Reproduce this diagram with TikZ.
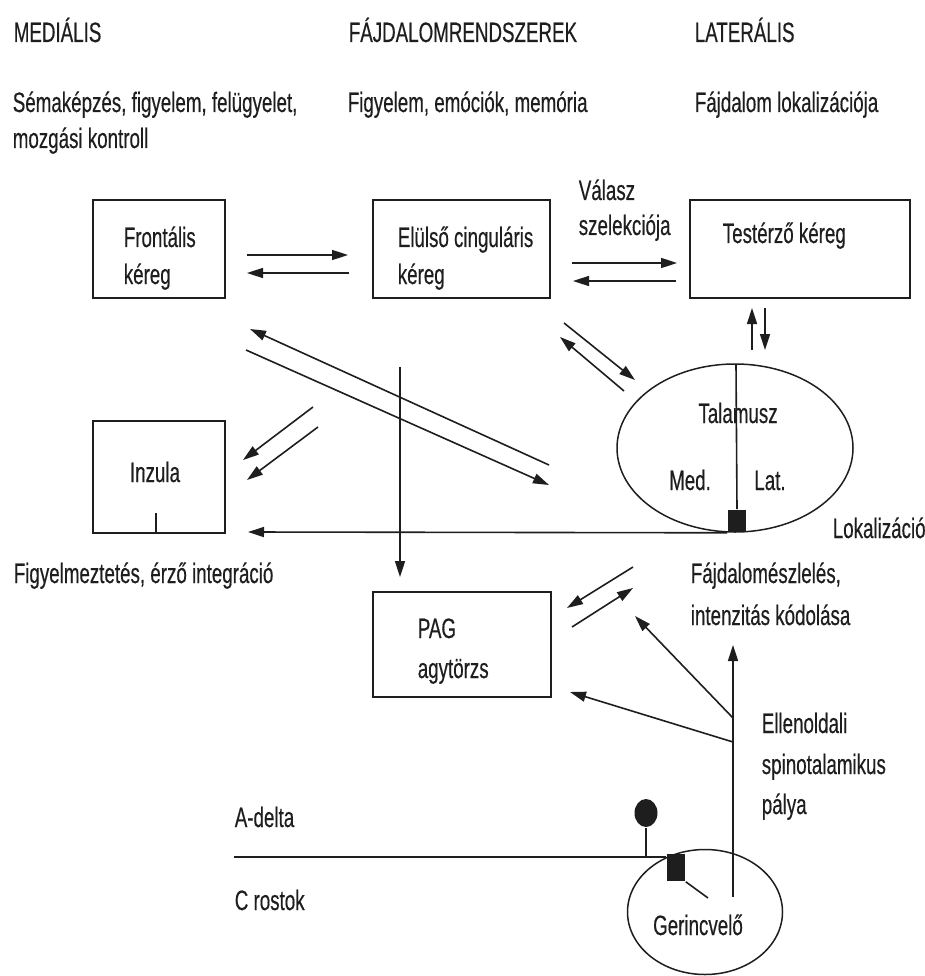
\documentclass[tikz,border=0pt]{standalone}
\usepackage{fontspec}
\setmainfont{Liberation Sans}[FakeStretch=0.67,FakeBold=0.4]
\usetikzlibrary{arrows.meta,shapes.geometric}
\definecolor{ink}{HTML}{1E1E1E}
\begin{document}
\begin{tikzpicture}[x=1pt,y=-1pt,line width=1.6pt,draw=ink,
  txt/.style={anchor=base west,inner sep=0pt,text=ink,font=\fontsize{28pt}{38pt}\selectfont},
  ctxt/.style={txt,anchor=base},
  boxn/.style={draw=ink,rectangle,inner sep=0pt,line width=1.7pt},
  ell/.style={draw=ink,ellipse,inner sep=0pt,line width=1.5pt},
  arr/.style={draw=ink,-{Triangle[length=16pt,width=10pt]}},
  ln/.style={draw=ink}]
\useasboundingbox (0,0) rectangle (925,976);
% headers
\node[txt] (h1) at (13,42) {MEDIÁLIS};
\node[txt] (h2) at (348,42) {FÁJDALOMRENDSZEREK};
\node[txt] (h3) at (694,42) {LATERÁLIS};
\node[txt] (s1a) at (12,112) {Sémaképzés, figyelem, felügyelet,};
\node[txt] (s1b) at (12,148) {mozgási kontroll};
\node[txt] (s2) at (347,112) {Figyelem, emóciók, memória};
\node[txt] (s3) at (694,112) {Fájdalom lokalizációja};
% boxes
\node[boxn,minimum width=132pt,minimum height=98pt] (front) at (159,249) {};
\node[boxn,minimum width=177pt,minimum height=98pt] (acc) at (461.5,249) {};
\node[boxn,minimum width=220pt,minimum height=98pt] (som) at (800,249) {};
\node[boxn,minimum width=132pt,minimum height=112pt] (ins) at (159,477) {};
\node[boxn,minimum width=178pt,minimum height=105pt] (pag) at (462,644.5) {};
\node[txt] (tfront1) at (123,247) {Frontális};
\node[txt] (tfront2) at (123,284) {kéreg};
\node[txt] (tacc1) at (397,247) {Elülső cinguláris};
\node[txt] (tacc2) at (397,284) {kéreg};
\node[txt] (tsom) at (722,243) {Testérző kéreg};
\node[txt] (vsel1) at (578,200) {Válasz};
\node[txt] (vsel2) at (578,235) {szelekciója};
\node[ctxt] (tins) at (155,482) {Inzula};
\node[txt] (tpag1) at (417,638) {PAG};
\node[txt] (tpag2) at (417,678) {agytörzs};
% thalamus
\node[ell,minimum width=236pt,minimum height=168pt] (thal) at (735,448) {};
\node[ctxt] (tthal) at (738,423) {Talamusz};
\node[ctxt] (tmed) at (690,490) {Med.};
\node[ctxt] (tlat) at (770,490) {Lat.};
\coordinate (thtop) at (736,365);
\node[fill=ink,inner sep=0pt,minimum width=18pt,minimum height=22pt] (thsq) at (737,521) {};
\draw[ln] (thtop) -- (thsq.north);
\node[txt] (tlok) at (832,538) {Lokalizáció};
% spinal cord
\node[ell,minimum width=155pt,minimum height=125pt] (ger) at (705,912) {};
\node[ctxt] (tger) at (698,935) {Gerincvelő};
\node[fill=ink,inner sep=0pt,minimum width=18pt,minimum height=27pt] (gsq) at (676,867.5) {};
\node[fill=ink,ellipse,inner sep=0pt,minimum width=23pt,minimum height=28pt] (loll) at (646,813) {};
% other labels
\node[txt] (tfig) at (13,583) {Figyelmeztetés, érző integráció};
\node[txt] (tfaj1) at (690,583) {Fájdalomészlelés,};
\node[txt] (tfaj2) at (690,625) {intenzitás kódolása};
\node[txt] (tell1) at (761,733) {Ellenoldali};
\node[txt] (tell2) at (761,774) {spinotalamikus};
\node[txt] (tell3) at (761,814) {pálya};
\node[txt] (tad) at (234,827) {A-delta};
\node[txt] (tcr) at (234,910) {C rostok};
% coordinates for free arrows
\coordinate (a1s) at (247,255); \coordinate (a1e) at (348,255);
\coordinate (a2s) at (349,273); \coordinate (a2e) at (247,273);
\coordinate (b1s) at (572,263); \coordinate (b1e) at (677,263);
\coordinate (b2s) at (676,281); \coordinate (b2e) at (573,281);
\coordinate (c1s) at (752,350); \coordinate (c1e) at (752,308);
\coordinate (c2s) at (765,308); \coordinate (c2e) at (765,350);
\coordinate (d1s) at (549,465); \coordinate (d1e) at (250,329);
\coordinate (d2s) at (246,350); \coordinate (d2e) at (549,485);
\coordinate (e1s) at (564,323); \coordinate (e1e) at (635,380);
\coordinate (e2s) at (624,391); \coordinate (e2e) at (560,337);
\coordinate (f1s) at (313,407); \coordinate (f1e) at (243,460);
\coordinate (f2s) at (318,427); \coordinate (f2e) at (247,480);
\coordinate (vtop) at (400,367); \coordinate (vbot) at (400,577);
\coordinate (lokend) at (248,532);
\coordinate (tick) at (156,513);
\coordinate (g1s) at (633,567); \coordinate (g1e) at (567,608);
\coordinate (g2s) at (572,627); \coordinate (g2e) at (633,588);
\coordinate (spbot) at (733,897); \coordinate (sptop) at (733,645);
\coordinate (br1) at (733,718); \coordinate (br1e) at (635,616);
\coordinate (br2) at (733,742); \coordinate (br2e) at (570,692);
\coordinate (aff) at (234,857); \coordinate (affst) at (646,857);
\coordinate (sqln) at (708,898);
% arrows
\draw[arr] (a1s) -- (a1e);
\draw[arr] (a2s) -- (a2e);
\draw[arr] (b1s) -- (b1e);
\draw[arr] (b2s) -- (b2e);
\draw[arr] (c1s) -- (c1e);
\draw[arr] (c2s) -- (c2e);
\draw[arr] (d1s) -- (d1e);
\draw[arr] (d2s) -- (d2e);
\draw[arr] (e1s) -- (e1e);
\draw[arr] (e2s) -- (e2e);
\draw[arr] (f1s) -- (f1e);
\draw[arr] (f2s) -- (f2e);
\draw[arr] (vtop) -- (vbot);
\draw[arr] (thsq.south west) -- (lokend);
\draw[ln] (tick) -- (ins.south -| tick);
\draw[arr] (g1s) -- (g1e);
\draw[arr] (g2s) -- (g2e);
\draw[arr] (spbot) -- (sptop);
\draw[arr] (br1) -- (br1e);
\draw[arr] (br2) -- (br2e);
\draw[ln] (aff) -- (gsq.north west |- aff);
\draw[ln] (affst) -- (loll.south);
\draw[ln] (gsq.south east) -- (sqln);
\end{tikzpicture}
\end{document}
